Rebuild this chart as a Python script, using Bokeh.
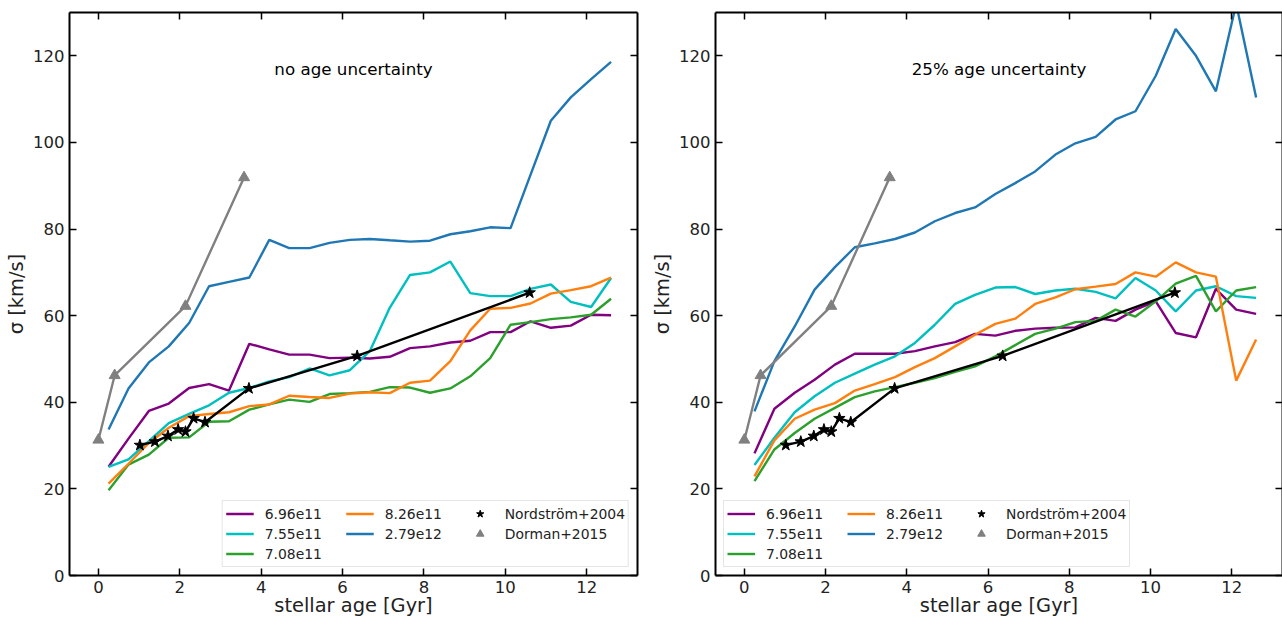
from bokeh.plotting import figure
from bokeh.layouts import row
from bokeh.models import (Legend, LegendItem, LinearAxis, Range1d,
                          SingleIntervalTicker, Label)
from bokeh.embed import file_html
from bokeh.resources import INLINE

# ---------------- data ----------------
age = [0.25, 0.74, 1.24, 1.73, 2.23, 2.72, 3.21, 3.71, 4.20, 4.69, 5.19, 5.68, 6.18,
       6.67, 7.16, 7.66, 8.15, 8.65, 9.14, 9.63, 10.13, 10.62, 11.12, 11.61, 12.11, 12.60]

mass_labels = ["6.96e11", "7.55e11", "7.08e11", "8.26e11", "2.79e12"]
mass_colors = ["#800080", "#00bfbf", "#2ca02c", "#ff7f0e", "#1f77b4"]

# panel 1: no age uncertainty
noerr_696 = [25.1, 31.6, 38.0, 39.7, 43.3, 44.2, 42.7, 53.5, 52.2, 51.0, 51.0, 50.2, 50.3,
             50.1, 50.5, 52.5, 52.9, 53.8, 54.2, 56.2, 56.2, 58.7, 57.2, 57.7, 60.2, 60.1]
noerr_755 = [25.1, 26.8, 31.0, 35.2, 37.3, 39.3, 42.2, 43.3, 44.8, 45.8, 47.8, 46.2, 47.4,
             51.8, 61.8, 69.4, 70.0, 72.5, 65.2, 64.5, 64.5, 66.2, 67.2, 63.2, 62.0, 68.7]
noerr_708 = [19.7, 25.6, 27.9, 31.8, 31.9, 35.5, 35.6, 38.3, 39.5, 40.6, 40.1, 41.9, 42.1,
             42.4, 43.5, 43.4, 42.2, 43.2, 46.0, 50.2, 57.9, 58.5, 59.2, 59.6, 60.2, 63.9]
noerr_826 = [21.2, 25.8, 30.6, 34.1, 36.8, 37.3, 37.7, 39.1, 39.5, 41.5, 41.2, 41.0, 42.0,
             42.3, 42.1, 44.5, 45.0, 49.5, 56.6, 61.6, 61.8, 62.8, 65.1, 65.9, 66.8, 68.8]
noerr_279 = [33.7, 43.2, 49.2, 52.9, 58.3, 66.8, 67.8, 68.8, 77.5, 75.6, 75.6, 76.8, 77.5,
             77.7, 77.4, 77.1, 77.3, 78.8, 79.5, 80.4, 80.2, 92.5, 105.0, 110.4, 114.6, 118.6]

# panel 2: 25% age uncertainty
err25_696 = [28.2, 38.5, 42.2, 45.2, 48.7, 51.2, 51.2, 51.2, 51.8, 52.9, 53.9, 55.8, 55.4,
             56.5, 57.0, 57.2, 57.3, 59.5, 58.8, 61.4, 63.3, 56.0, 55.0, 66.2, 61.4, 60.4]
err25_755 = [25.5, 31.8, 37.7, 41.4, 44.5, 46.6, 48.7, 50.6, 53.7, 57.9, 62.7, 64.8, 66.5,
             66.6, 65.0, 65.8, 66.2, 65.5, 64.0, 68.7, 65.8, 61.0, 65.8, 66.8, 64.5, 64.1]
err25_708 = [21.8, 29.1, 32.9, 36.2, 38.7, 41.2, 42.5, 43.5, 44.5, 45.6, 47.0, 48.3, 50.6,
             53.2, 55.8, 57.0, 58.5, 58.8, 61.4, 59.8, 63.3, 67.4, 69.2, 61.0, 65.8, 66.6]
err25_826 = [22.9, 31.2, 36.2, 38.3, 39.8, 42.7, 44.2, 45.8, 48.1, 50.2, 52.9, 55.6, 58.1,
             59.3, 62.7, 64.2, 66.1, 66.7, 67.3, 70.0, 69.0, 72.3, 70.0, 69.0, 45.0, 54.5]
err25_279 = [37.9, 49.5, 57.5, 66.0, 71.2, 75.8, 76.7, 77.7, 79.2, 81.8, 83.7, 85.0, 88.1,
             90.6, 93.3, 97.2, 99.8, 101.3, 105.3, 107.2, 115.4, 126.2, 120.0, 111.8, 132.0, 110.4]

# observations
nordstrom_age = [1.02, 1.39, 1.71, 1.96, 2.14, 2.34, 2.62, 3.70, 6.36, 10.60]
nordstrom_sigma = [30.1, 30.9, 32.2, 33.7, 33.2, 36.3, 35.4, 43.2, 50.7, 65.3]
dorman_age = [0.0, 0.40, 2.14, 3.58]
dorman_sigma = [31.3, 46.2, 62.2, 91.9]

x_ticks_step = 2
y_ticks_step = 20
x_lo, x_hi = -0.71, 13.25
y_lo, y_hi = 0, 130

FONT = "DejaVu Sans"
TEXT_COLOR = "#222222"
LW = 2.4


def style_axis(ax, interval, show_labels, label=None, label_standoff=0):
    ax.ticker = SingleIntervalTicker(interval=interval, num_minor_ticks=0)
    ax.major_tick_in = 7
    ax.major_tick_out = 0
    ax.minor_tick_in = 0
    ax.minor_tick_out = 0
    ax.major_tick_line_width = 1.5
    ax.major_tick_line_color = "black"
    ax.axis_line_width = 2
    ax.axis_line_color = "black"
    ax.major_label_text_font = FONT
    if show_labels:
        ax.major_label_text_color = TEXT_COLOR
        ax.major_label_text_font_size = "16.5px"
        ax.major_label_standoff = 5
    else:
        ax.major_label_text_color = None
        ax.major_label_text_alpha = 0
        ax.major_label_standoff = 0
    if label:
        ax.axis_label = label
        ax.axis_label_text_font = FONT
        ax.axis_label_text_font_size = "19.4px"
        ax.axis_label_text_font_style = "normal"
        ax.axis_label_text_color = TEXT_COLOR
        ax.axis_label_standoff = label_standoff


def make_panel(series, note, legend_loc, border_left, border_right):
    p = figure(width=641, height=619, output_backend="svg", toolbar_location=None,
               x_range=Range1d(x_lo, x_hi), y_range=Range1d(y_lo, y_hi),
               min_border_left=border_left, min_border_right=border_right,
               min_border_top=12, min_border_bottom=44)
    p.outline_line_color = None
    p.xgrid.visible = False
    p.ygrid.visible = False
    p.background_fill_color = "white"
    p.border_fill_color = "white"

    style_axis(p.xaxis[0], x_ticks_step, True, "stellar age [Gyr]", -2)
    style_axis(p.yaxis[0], y_ticks_step, True, "σ [km/s]", 2)
    top = LinearAxis()
    style_axis(top, x_ticks_step, False)
    p.add_layout(top, "above")
    right = LinearAxis()
    style_axis(right, y_ticks_step, False)
    p.add_layout(right, "right")

    sim_renderers = []
    for vals, col in zip(series, mass_colors):
        r = p.line(age, vals, line_color=col, line_width=LW)
        sim_renderers.append(r)

    p.line(nordstrom_age, nordstrom_sigma, line_color="black", line_width=LW)
    star = p.scatter(nordstrom_age, nordstrom_sigma, marker="star", size=12,
                     fill_color="black", line_color="black")
    p.line(dorman_age, dorman_sigma, line_color="#808080", line_width=LW)
    tri = p.scatter(dorman_age, dorman_sigma, marker="triangle", size=11,
                    fill_color="#808080", line_color="#808080")
    blank = p.line(x=[], y=[], line_alpha=0)

    items = [LegendItem(label=lab, renderers=[r]) for lab, r in zip(mass_labels, sim_renderers)]
    items.append(LegendItem(label=" ", renderers=[blank]))
    items.append(LegendItem(label="Nordström+2004", renderers=[star]))
    items.append(LegendItem(label="Dorman+2015", renderers=[tri]))

    leg = Legend(items=items, ncols=3, location=legend_loc, margin=8, padding=3,
                 spacing=1, glyph_width=28, glyph_height=19, label_height=19,
                 label_width=80, label_standoff=11,
                 label_text_font=FONT, label_text_font_size="13.9px",
                 label_text_color=TEXT_COLOR,
                 border_line_color="#cccccc", border_line_width=1,
                 background_fill_color="white", background_fill_alpha=0.8)
    p.add_layout(leg)

    p.add_layout(Label(x=(x_lo + x_hi) / 2, y=y_lo + 0.9 * (y_hi - y_lo), text=note,
                       text_align="center", text_baseline="middle",
                       text_font=FONT, text_font_size="16.7px", text_color="black"))
    return p


p1 = make_panel([noerr_696, noerr_755, noerr_708, noerr_826, noerr_279],
                "no age uncertainty", "bottom_right", 69, 4)
p2 = make_panel([err25_696, err25_755, err25_708, err25_826, err25_279],
                "25% age uncertainty", "bottom_left", 74, 0)

layout = row(p1, p2)
open("out.html", "w").write(file_html(layout, INLINE))
